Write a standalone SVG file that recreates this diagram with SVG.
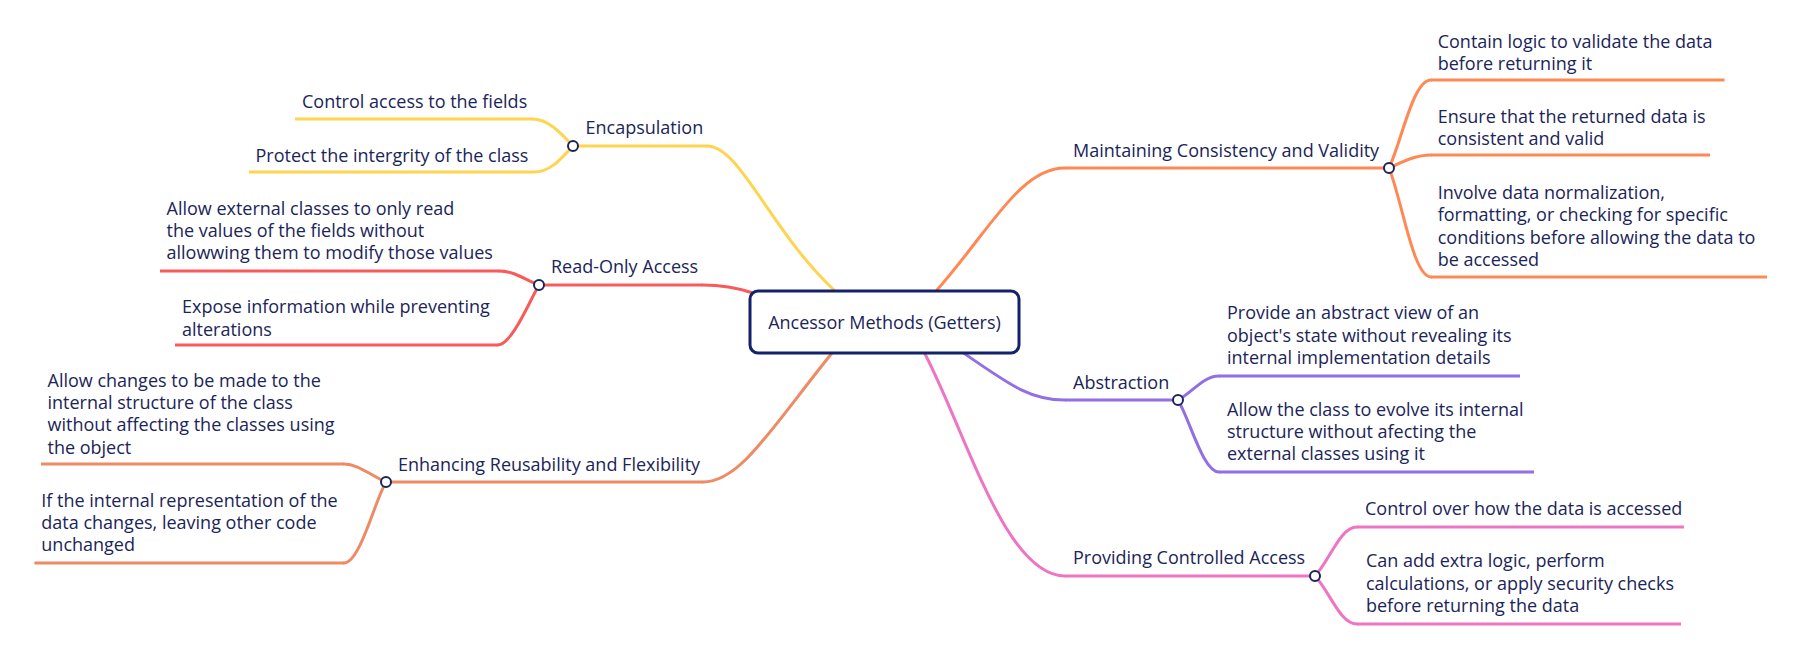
<svg xmlns="http://www.w3.org/2000/svg" width="1806" height="653" viewBox="0 0 1806 653">
<style>
text{font-family:"Open Sans","Noto Sans","Liberation Sans",sans-serif;font-size:18px;fill:#1b2559}
.c{fill:none;stroke-width:3;stroke-linecap:round}
.u{stroke-width:3}
.dot{fill:#fff;stroke:#1b2559;stroke-width:2}
.y{stroke:#ffd451}.r{stroke:#f95a5a}.e{stroke:#ee8b64}.m{stroke:#ff8955}.p{stroke:#936fe4}.k{stroke:#ee74c4}
</style>
<rect width="1806" height="653" fill="#fff"/>
<g id="connectors">
<path class="c y" d="M834,290 C770,230 740,146 707,146"/>
<path class="c r" d="M753,293 C735,287 720,285 702.6,285"/>
<path class="c e" d="M832,353 C770,430 740,482 703,482"/>
<path class="c m" d="M937,290 C990,230 1020,168 1065,168"/>
<path class="c p" d="M963.6,353 C1010,385 1030,400 1065,400"/>
<path class="c k" d="M924.5,353 C965,430 1005,576 1065,576"/>
<path class="c y" d="M573,146 C560,132 548,119 532,119"/>
<path class="c y" d="M573,146 C560,160 550,172 534,172"/>
<path class="c r" d="M539,285 C525,280 515,271 499,271"/>
<path class="c r" d="M539,285 C530,300 512,345 497.5,345"/>
<path class="c e" d="M386,482 C370,475 358,464 344,464"/>
<path class="c e" d="M386,482 C375,500 360,563 344,563"/>
<path class="c m" d="M1389,168 C1402,140 1413,80 1431,80"/>
<path class="c m" d="M1389,168 C1402,162 1415,155 1431,155"/>
<path class="c m" d="M1389,168 C1402,200 1413,277 1431,277"/>
<path class="c p" d="M1178,400 C1192,393 1203,376 1219,376"/>
<path class="c p" d="M1178,400 C1190,420 1203,472 1219,472"/>
<path class="c k" d="M1315,576 C1330,560 1340,527 1357,527"/>
<path class="c k" d="M1315,576 C1330,592 1340,624 1357,624"/>
</g>
<g id="root">
<rect x="750" y="291" width="269" height="62" rx="8" fill="#fff" stroke="#14216b" stroke-width="3"/>
<text x="884.5" y="328.5" text-anchor="middle">Ancessor Methods (Getters)</text>
</g>
<g id="encapsulation">
<line class="u y" x1="573" y1="146" x2="707" y2="146"/>
<text x="585.5" y="134">Encapsulation</text>
<circle class="dot" cx="573" cy="146" r="5"/>
</g>
<g id="enc-1"><line class="u y" x1="295" y1="119" x2="532" y2="119"/><text x="302" y="108">Control access to the fields</text></g>
<g id="enc-2"><line class="u y" x1="249" y1="172" x2="534" y2="172"/><text x="255.5" y="161.5">Protect the intergrity of the class</text></g>
<g id="read-only">
<line class="u r" x1="539" y1="285" x2="702.6" y2="285"/>
<text x="551" y="273">Read-Only Access</text>
<circle class="dot" cx="539" cy="285" r="5"/>
</g>
<g id="ro-1"><line class="u r" x1="160" y1="271" x2="499" y2="271"/><text x="166.5" y="214.5">Allow external classes to only read<tspan x="166.5" dy="22.3">the values of the fields without</tspan><tspan x="166.5" dy="22.3">allowwing them to modify those values</tspan></text></g>
<g id="ro-2"><line class="u r" x1="175" y1="345" x2="497.5" y2="345"/><text x="182" y="313.3">Expose information while preventing<tspan x="182" dy="22.3">alterations</tspan></text></g>
<g id="reusability">
<line class="u e" x1="386" y1="482" x2="703" y2="482"/>
<text x="398" y="470.7">Enhancing Reusability and Flexibility</text>
<circle class="dot" cx="386" cy="482" r="5"/>
</g>
<g id="re-1"><line class="u e" x1="41" y1="464" x2="344" y2="464"/><text x="47.5" y="386.7">Allow changes to be made to the<tspan x="47.5" dy="22.3">internal structure of the class</tspan><tspan x="47.5" dy="22.3">without affecting the classes using</tspan><tspan x="47.5" dy="22.3">the object</tspan></text></g>
<g id="re-2"><line class="u e" x1="34.4" y1="563" x2="344" y2="563"/><text x="41.3" y="506.7">If the internal representation of the<tspan x="41.3" dy="22.3">data changes, leaving other code</tspan><tspan x="41.3" dy="22.3">unchanged</tspan></text></g>
<g id="consistency">
<line class="u m" x1="1065" y1="168" x2="1389" y2="168"/>
<text x="1073" y="156.7">Maintaining Consistency and Validity</text>
<circle class="dot" cx="1389" cy="168" r="5"/>
</g>
<g id="mc-1"><line class="u m" x1="1431" y1="80" x2="1724.5" y2="80"/><text x="1437.7" y="47.7">Contain logic to validate the data<tspan x="1437.7" dy="22.3">before returning it</tspan></text></g>
<g id="mc-2"><line class="u m" x1="1431" y1="155" x2="1710" y2="155"/><text x="1437.7" y="122.6">Ensure that the returned data is<tspan x="1437.7" dy="22.3">consistent and valid</tspan></text></g>
<g id="mc-3"><line class="u m" x1="1431" y1="277" x2="1767" y2="277"/><text x="1437.7" y="199">Involve data normalization,<tspan x="1437.7" dy="22.3">formatting, or checking for specific</tspan><tspan x="1437.7" dy="22.3">conditions before allowing the data to</tspan><tspan x="1437.7" dy="22.3">be accessed</tspan></text></g>
<g id="abstraction">
<line class="u p" x1="1065" y1="400" x2="1178" y2="400"/>
<text x="1073" y="389.3">Abstraction</text>
<circle class="dot" cx="1178" cy="400" r="5"/>
</g>
<g id="ab-1"><line class="u p" x1="1219" y1="376" x2="1520" y2="376"/><text x="1227" y="319.3">Provide an abstract view of an<tspan x="1227" dy="22.3">object's state without revealing its</tspan><tspan x="1227" dy="22.3">internal implementation details</tspan></text></g>
<g id="ab-2"><line class="u p" x1="1219" y1="472" x2="1534" y2="472"/><text x="1227" y="415.7">Allow the class to evolve its internal<tspan x="1227" dy="22.3">structure without afecting the</tspan><tspan x="1227" dy="22.3">external classes using it</tspan></text></g>
<g id="controlled">
<line class="u k" x1="1065" y1="576" x2="1315" y2="576"/>
<text x="1073" y="564.3">Providing Controlled Access</text>
<circle class="dot" cx="1315" cy="576" r="5"/>
</g>
<g id="ca-1"><line class="u k" x1="1357" y1="527" x2="1684" y2="527"/><text x="1365" y="515.3">Control over how the data is accessed</text></g>
<g id="ca-2"><line class="u k" x1="1357" y1="624" x2="1681" y2="624"/><text x="1366" y="567.3">Can add extra logic, perform<tspan x="1366" dy="22.3">calculations, or apply security checks</tspan><tspan x="1366" dy="22.3">before returning the data</tspan></text></g>
</svg>
